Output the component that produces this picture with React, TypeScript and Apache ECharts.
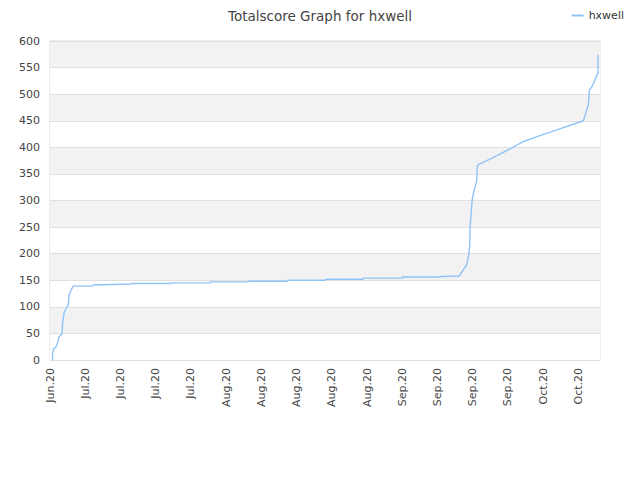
import React, { useEffect, useRef } from "react";
import * as echarts from "echarts";

// x values: days after 27 Jun 2020
const dayOffsets = [
  0.5, 0.5, 0.8, 1.3, 1.6, 1.8, 2.4, 2.5, 2.8, 3.2, 3.6, 3.8, 4.2, 4.6, 8.4, 8.6, 16.0, 16.2,
  23.9, 24.0, 31.8, 31.9, 39.4, 39.5, 47.1, 47.2, 54.7, 54.8, 62.2, 62.3, 70.0, 70.1, 77.5, 77.6,
  81.3, 82.8, 83.2, 83.4, 83.5, 83.7, 83.9, 84.2, 84.5, 84.8, 84.9, 85.1, 89.1, 91.8, 94.1, 96.8,
  100.7, 106.0, 107.0, 107.2, 107.7, 108.9, 108.9,
];
const scores = [
  0, 12, 22, 26, 36, 44, 49, 70, 89, 97, 103, 122, 132, 139, 139, 141, 143, 144,
  144, 145, 145, 147, 147, 148, 148, 150, 150, 152, 152, 154, 154, 156, 156, 157,
  158, 179, 197, 213, 251, 276, 301, 316, 326, 338, 365, 367, 386, 399, 411, 420,
  433, 450, 480, 508, 514, 540, 574,
];
const monthNames = ["Jan", "Feb", "Mar", "Apr", "May", "Jun", "Jul", "Aug", "Sep", "Oct", "Nov", "Dec"];
const startDate = [2020, 5, 27];
const seriesName = "hxwell";
const titleText = "Totalscore Graph for hxwell";

export default function App() {
  const ref = useRef<HTMLDivElement>(null);
  useEffect(() => {
    const chart = echarts.init(ref.current!, undefined, { renderer: "svg" });
    const base = Date.UTC(startDate[0], startDate[1], startDate[2]);
    const fmt = (v: number) => {
      if (Math.abs(v % 7) > 1e-6) return "";
      const d = new Date(base + v * 86400000);
      return monthNames[d.getUTCMonth()] + "." + String(d.getUTCFullYear()).slice(2);
    };
    chart.setOption({
      animation: false,
      title: {
        text: titleText,
        left: "center",
        top: 4,
        textStyle: { fontFamily: "DejaVu Sans", fontSize: 13.5, fontWeight: "normal", color: "#444" },
      },
      legend: {
        data: [seriesName],
        right: 11,
        top: 5,
        itemWidth: 12,
        itemHeight: 2,
        icon: "rect",
        textStyle: { fontFamily: "DejaVu Sans", fontSize: 11, color: "#333" },
      },
      grid: {
        left: 50,
        right: 40,
        top: 41,
        bottom: 120,
        show: true,
        borderColor: "#d9d9d9",
        borderWidth: 1,
      },
      xAxis: {
        type: "value",
        min: 0,
        max: 109.3,
        interval: 7,
        axisLine: { show: false },
        axisTick: { show: false },
        splitLine: { show: false },
        axisLabel: {
          rotate: 90,
          formatter: fmt,
          showMaxLabel: false,
          fontFamily: "DejaVu Sans",
          fontSize: 11,
          color: "#444",
          margin: 8,
        },
      },
      yAxis: {
        type: "value",
        min: 0,
        max: 600,
        interval: 50,
        axisLine: { show: false },
        axisTick: { show: false },
        splitLine: { show: true, lineStyle: { color: "#e0e0e0" } },
        splitArea: { show: true, areaStyle: { color: ["#ffffff", "#f2f2f2"] } },
        axisLabel: { fontFamily: "DejaVu Sans", fontSize: 11, color: "#444", margin: 10 },
      },
      series: [
        {
          name: seriesName,
          type: "line",
          data: dayOffsets.map((d, i) => [d, scores[i]]),
          showSymbol: false,
          lineStyle: { color: "#8fc3f5", width: 1.4 },
          itemStyle: { color: "#8fc3f5" },
        },
      ],
    });
    return () => chart.dispose();
  }, []);
  return <div ref={ref} style={{ width: 640, height: 480, position: "absolute", left: 0, top: 0 }} />;
}
